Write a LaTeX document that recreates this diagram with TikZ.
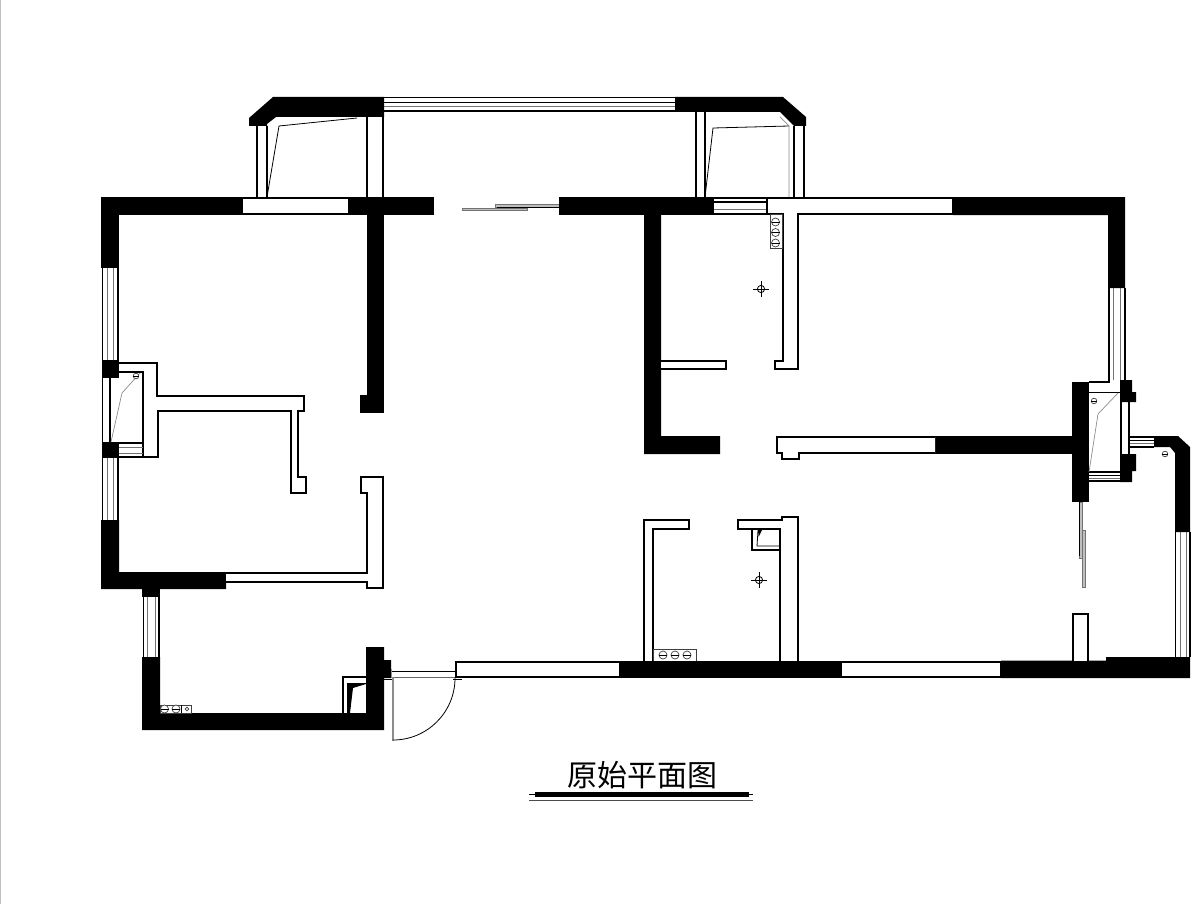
\documentclass[tikz,border=0pt]{standalone}
\usepackage{fontspec}
\newfontfamily\cjk{Noto Sans CJK SC}
\tikzset{
 blk/.style={fill=black,draw=none},
 wall/.style={draw=black,line width=2pt,fill=white,line join=miter},
 ln/.style={draw=black,line width=1.6pt},
 thinl/.style={draw=black,line width=0.8pt},
 gry/.style={draw=black!45,line width=0.7pt},
 glass/.style={draw=black,line width=1.2pt},
 pane/.style={draw=black!55,line width=1pt},
 strip/.style={draw=black!55,fill=black!25,line width=0.7pt},
 sock/.style={draw=black!75,line width=0.7pt,fill=white},
}
\newcommand{\socket}[2]{\draw[sock] (#1,#2) circle (4); \draw[thinl] (#1-4,#2) -- (#1+4,#2);}
\newcommand{\smallsock}[2]{\draw[sock] (#1,#2) circle (2.8); \draw[thinl] (#1-2.8,#2) -- (#1+2.8,#2);}
\newcommand{\lamp}[2]{\draw[thinl] (#1,#2) circle (3.6); \draw[thinl] (#1-8,#2) -- (#1+8,#2) (#1,#2-8) -- (#1,#2+8);}
\begin{document}
\begin{tikzpicture}[x=1pt,y=-1pt]
\useasboundingbox (0,0) rectangle (1198,904);
\fill[white] (0,0) rectangle (1198,904);
\draw[black!25,line width=1pt] (0.5,0) -- (0.5,904);

% top-left bay
\draw[ln] (257,126) -- (257,198) (267,126) -- (267,198) (367,117) -- (367,198) (383,117) -- (383,198);
\draw[thinl] (267,197) -- (279,126) -- (357,118);
\fill[blk] (273,97) -- (384,97) -- (384,117) -- (276,117) -- (267,124) -- (267,126) -- (249,126) -- (249,118) -- cycle;
% top window
\draw[glass] (384,97.5) -- (675,97.5) (384,111) -- (675,111);
\draw[glass] (384,102.5) -- (675,102.5);
\draw[pane] (384,107) -- (675,107);

% top-right bay
\draw[ln] (696,112) -- (696,198) (705,112) -- (705,198) (794,126) -- (794,198) (804,126) -- (804,198);
\draw[thinl] (705,197) -- (713,128) -- (789,126);
\draw[gry] (780,117) -- (789,126) -- (789,197);
\fill[blk] (675,97) -- (783,97) -- (806,117) -- (806,126) -- (794,126) -- (780,112) -- (675,112) -- cycle;

% top wall left
\fill[blk] (101,197) rectangle (434,215);
\fill[white] (243,199) rectangle (348,213);
% sliding door top
\draw[strip] (462,208) rectangle (527,210.5);
\draw[strip] (495,204.5) rectangle (559,207);
\draw[thinl] (497,207) -- (559,207);
% top wall centre
\fill[blk] (559,197) rectangle (714,215);
\draw[glass] (714,198) -- (767,198) (714,214) -- (767,214);
\draw[glass] (714,202) -- (767,202);
\draw[pane] (714,209) -- (767,209);
% white wall top right
\draw[wall] (767,198) -- (953,198) -- (953,214) -- (798,214) -- (798,369) -- (775,369) -- (775,361) -- (783,361) -- (783,214) -- (767,214) -- cycle;
\fill[blk] (953,197) -- (1125,197) -- (1125,288) -- (1108,288) -- (1108,215) -- (953,215) -- cycle;
% sockets top
\draw[sock] (770,214.5) rectangle (782,248);
\socket{775.5}{222}\socket{775.5}{232.5}\socket{775.5}{243}
\lamp{761}{289}

% wall below top-left
\fill[blk] (367,215) rectangle (384,396);
\fill[blk] (360,395) rectangle (384,413);
% left outer wall
\fill[blk] (101,197) rectangle (119,268);
\draw[glass] (102.5,268) -- (102.5,360) (118,268) -- (118,360);
\draw[pane] (107,268) -- (107,360) (113,268) -- (113,360);
\fill[blk] (102,360) rectangle (119,378);
\fill[blk] (102,442) rectangle (119,458);
\draw[ln] (102.5,378) -- (102.5,442) (110,378) -- (110,442);
\draw[glass] (102.5,458) -- (102.5,520) (118,458) -- (118,520);
\draw[pane] (107,458) -- (107,520) (113,458) -- (113,520);
\fill[blk] (101,520) -- (119,520) -- (119,572) -- (226,572) -- (226,589) -- (101,589) -- cycle;
% left white wall
\draw[wall] (119,363) -- (157,363) -- (157,396) -- (304,396) -- (304,411) -- (298,411) -- (298,477) -- (306,477) -- (306,493) -- (291,493) -- (291,411) -- (158,411) -- (158,457) -- (143,457) -- (143,372) -- (119,372);
\draw[glass] (119,443) -- (143,443) (119,457) -- (143,457);
\draw[pane] (119,447) -- (143,447) (119,453) -- (143,453);
\draw[gry] (111,442) -- (122,393) -- (140,373);
\smallsock{136}{376}
% lower white wall
\draw[wall] (226,573) -- (367,573) -- (367,493) -- (361,493) -- (361,477) -- (383,477) -- (383,588) -- (367,588) -- (367,582) -- (226,582);

% bottom-left room
\fill[blk] (142,589) rectangle (160,597);
\draw[glass] (143.5,597) -- (143.5,657) (159,597) -- (159,657);
\draw[pane] (147.5,597) -- (147.5,657) (155,597) -- (155,657);
\fill[blk] (142,657) -- (160,657) -- (160,713) -- (366,713) -- (366,647) -- (384,647) -- (384,660) -- (391,660) -- (391,678) -- (384,678) -- (384,730) -- (142,730) -- cycle;
\draw[wall] (366,676.5) -- (342.5,676.5) -- (342.5,713);
\fill[blk] (347,683) -- (366,683) -- (366,684) -- (353,688) -- (350,713) -- (347,713) -- cycle;
\draw[sock] (160,705) rectangle (191,713);
\draw[thinl] (181,705) -- (181,713);
\socket{164.5}{709}\socket{176}{709}
\draw[sock] (187,709) circle (1.8);

% entrance door
\draw[thinl] (391,671) -- (455,671);
\draw[thinl,draw=black!60] (391,677) -- (455,677);
\draw[gry] (391,669) -- (391,678) (455,669) -- (455,678);
\draw[thinl] (384,679) -- (392,679) (453,679) -- (462,679);
\draw[gry,line width=0.9pt] (392,677) -- (392,740) -- (393.7,740) -- (393.7,677);
\draw[thinl] (393,740) arc[start angle=90,end angle=0,radius=62];

% centre walls
\fill[blk] (644,215) -- (661,215) -- (661,436) -- (720,436) -- (720,454) -- (644,454) -- cycle;
\draw[wall] (661,361) -- (726,361) -- (726,369) -- (661,369);
\fill[blk] (935,436) rectangle (1072,454);
\draw[wall] (935,437) -- (777,437) -- (777,453) -- (782,453) -- (782,459) -- (799,459) -- (799,453) -- (935,453);

% kitchen walls
\draw[wall] (644,661) -- (644,520) -- (689,520) -- (689,529) -- (653,529) -- (653,661);
\draw[wall] (798,661) -- (798,517) -- (782,517) -- (782,520) -- (738,520) -- (738,529) -- (780,529) -- (780,661);
\draw[wall,fill=none] (752,529) -- (752,550) -- (780,550);
\draw[thinl] (758,530) -- (757,546) -- (780,546);
\fill[blk] (758,530) -- (762,530) -- (758.6,537) -- cycle;
\draw[sock] (653,649) rectangle (696,661);
\socket{663}{655}\socket{675}{655}\socket{687}{655}
\lamp{759}{580}

% bottom wall
\draw[wall] (456,661.5) rectangle (620,677);
\draw[wall] (841,661.5) rectangle (1001,677);
\fill[blk] (620,660.5) rectangle (841,678);
\fill[blk] (1001,660.5) -- (1106,660.5) -- (1106,657) -- (1190,657) -- (1190,678) -- (1001,678) -- cycle;
\draw[wall] (1073,661) -- (1073,614) -- (1088,614) -- (1088,661);

% right window lower and bay
\draw[glass] (1175.5,532) -- (1175.5,657) (1190,532) -- (1190,657);
\draw[pane] (1180,532) -- (1180,657) (1186,532) -- (1186,657);
\fill[blk] (1154,436) -- (1178,436) -- (1190,447) -- (1190,532) -- (1175,532) -- (1175,453) -- (1170,447) -- (1154,447) -- cycle;
\smallsock{1165}{454}
\draw[glass] (1129,437) -- (1154,437) (1129,447) -- (1154,447);
\draw[glass] (1129,440.5) -- (1154,440.5);
\draw[pane] (1129,443.5) -- (1154,443.5);

% right upper window
\draw[glass] (1109,288) -- (1109,380) (1125,288) -- (1125,380);
\draw[pane] (1113,288) -- (1113,380) (1120,288) -- (1120,380);

% right shaft
\draw[ln] (1089,382) -- (1109,382) -- (1109,380);
\draw[ln] (1089,392.5) -- (1120,392.5);
\draw[ln] (1121,402) -- (1121,454) (1129,402) -- (1129,454);
\fill[blk] (1072,382) rectangle (1089,502);
\fill[blk] (1120,380) -- (1132,380) -- (1132,392) -- (1136,392) -- (1136,402) -- (1120,402) -- cycle;
\fill[blk] (1120,454) -- (1136,454) -- (1136,471) -- (1132,471) -- (1132,482) -- (1120,482) -- cycle;
\draw[glass] (1089,472) -- (1120,472) (1089,481) -- (1120,481);
\draw[glass] (1089,475.5) -- (1120,475.5);
\draw[pane] (1089,478.5) -- (1120,478.5);
\draw[gry] (1089,472) -- (1098,414) -- (1118,393);
\smallsock{1094}{401}
% sliding door right
\draw[strip] (1079.5,502) rectangle (1082,558);
\draw[strip] (1082,530) rectangle (1085,587);
\draw[thinl] (1079.5,502) -- (1079.5,556);

% title
\node[inner sep=0pt,font=\cjk\fontsize{30}{30}\selectfont] (title) at (642,775) {原始平面图};
\coordinate (ruleL) at (529,794);
\coordinate (ruleR) at (753,794);
\fill[blk] (535,792) rectangle (749,797);
\draw[thinl] (ruleL) -- (ruleR);
\draw[thinl,draw=black!70] (529,800.5) -- (753,800.5);
\end{tikzpicture}
\end{document}
